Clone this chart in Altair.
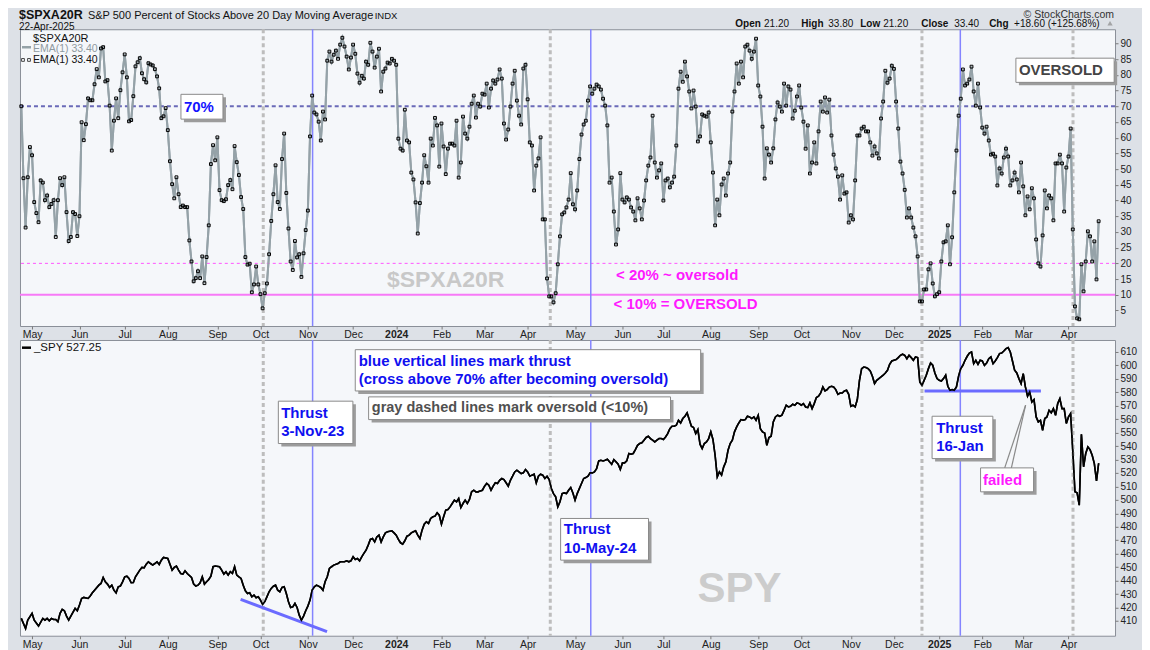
import altair as alt
import pandas as pd

# ---------------- data ----------------
HOLIDAYS = ["2023-05-29", "2023-06-19", "2023-07-04", "2023-09-04", "2023-11-23", "2023-12-25",
            "2024-01-01", "2024-01-15", "2024-02-19", "2024-03-29", "2024-05-27", "2024-06-19",
            "2024-07-04", "2024-09-02", "2024-11-28", "2024-12-25",
            "2025-01-01", "2025-01-09", "2025-01-20", "2025-02-17", "2025-04-18"]
dates = pd.bdate_range("2023-04-24", "2025-04-22", freq="C", holidays=HOLIDAYS)

spxa20r = [
    70, 47.1, 31.4, 47.4, 57, 54.4, 39.5, 36, 33.1, 46.4,
    45.7, 40.1, 41.6, 37.9, 38.9, 40.1, 28.4, 40.1, 47.1, 44.9,
    47.4, 36.3, 27.1, 28.4, 36.3, 35.7, 28.7, 35, 64.9, 59.2,
    64.3, 72.5, 71.9, 71.9, 77, 81.8, 79.2, 88.4, 88.8, 77.9,
    78.3, 70.2, 55.9, 65.4, 72.5, 66.2, 75.1, 80.8, 86.5, 79.2,
    65.2, 65.6, 73.2, 82.7, 84, 85.3, 80.5, 78.6, 77.6, 83.7,
    83.3, 83, 81.8, 79.5, 75.7, 66.2, 66.8, 69.4, 62.4, 52.5,
    45.2, 40.7, 47.4, 42, 37.9, 38.4, 37.9, 37.9, 27.3, 20.6,
    14.3, 15.3, 17.5, 15.3, 22.2, 13.7, 22, 32.1, 51.6, 57.6,
    52.8, 60.1, 43.3, 40.1, 39.8, 40.4, 44.9, 46.5, 43.6, 57.3,
    52.2, 48.1, 41.1, 37.3, 22, 19.6, 19.9, 10.8, 13.3, 19,
    13.3, 10.2, 5.7, 10.5, 13.6, 22.9, 33.5, 42, 51.2, 39.5,
    37.3, 53.2, 61.3, 42.4, 31.1, 20.6, 17.9, 27.1, 21.9, 22.9,
    15.7, 23.2, 30.6, 36.8, 60.4, 73.4, 68, 67.4, 65.1, 59.1,
    68.3, 65.8, 84.5, 87.4, 84.2, 86.4, 87.7, 85.1, 89.6, 91.8,
    89, 85.8, 81.7, 85.5, 89.6, 86.7, 80.4, 77.5, 79.7, 78.8,
    84.2, 83.2, 90.2, 87.4, 82.3, 85.8, 88.3, 74.7, 81, 82,
    83.9, 83.6, 85.1, 84.5, 83.2, 59.7, 56.5, 55.9, 68.9, 59.1,
    58.5, 48.9, 46.7, 39.4, 29.5, 39.2, 45.7, 54.4, 50.9, 45.7,
    59.7, 57.5, 66.3, 63.9, 50.8, 64.5, 57.2, 48.4, 56.5, 58.1,
    58.1, 57.5, 65.4, 47.3, 52.1, 66.7, 61.3, 59.7, 63.5, 70.8,
    73.4, 66.4, 70.8, 69.9, 74, 73.7, 77.2, 69.6, 75.6, 78.2,
    77.2, 78.5, 81.7, 78.8, 64.5, 59.4, 62.6, 69.9, 77.2, 81.3,
    71.8, 67, 64.2, 82, 83.2, 72.2, 58.5, 57.5, 43.2, 51.1,
    53.4, 60.1, 34, 34, 15.2, 9.5, 9.5, 7.6, 10.5, 19.7,
    28.6, 35.6, 36.2, 37.8, 40.3, 48.7, 38.8, 37.2, 43.2, 53.2,
    61, 64.2, 65.4, 71.8, 76.3, 74, 75.6, 76.9, 76.3, 75.3,
    72.4, 70.2, 63.9, 45.7, 47.3, 36.5, 26, 30.8, 48.7, 40.3,
    39.4, 41, 40.3, 37.8, 36.5, 33.7, 40.7, 37.5, 34, 40,
    46.4, 51.1, 53.7, 67, 52.1, 47.3, 49.6, 51.8, 40, 46.4,
    47, 44.2, 45.7, 47.6, 57.5, 75.6, 81, 77.8, 84.2, 79.5,
    74.7, 69.3, 75, 69.9, 58.8, 60.4, 67.4, 67, 66.7, 68,
    58.5, 48.9, 32.1, 40.3, 35.3, 45.1, 47, 41.6, 48.6, 52.1,
    68.3, 74.7, 83.6, 77.2, 84.2, 79.2, 89, 89.6, 87.7, 85.1,
    87.4, 91.5, 76.6, 73.1, 63.5, 47, 56.6, 54.6, 52.1, 56.6,
    65.8, 71.2, 69.9, 68.3, 77.2, 70.2, 76.3, 75.3, 66.1, 68.6,
    73.1, 76.6, 69.6, 65.1, 56.5, 63.9, 48.6, 52.1, 58.5, 51.8,
    62, 71.5, 68.3, 72.8, 68, 72.1, 60.7, 54.6, 50.2, 47.6,
    40.3, 48, 42.2, 42.6, 33, 35.3, 34, 46.4, 60.7, 60.7,
    62.9, 63.5, 62, 62, 58.5, 54.3, 57.2, 55, 53.4, 66.1,
    71.5, 81.3, 77.5, 78.8, 82.9, 81.9, 71.5, 62.9, 52.4, 48.6,
    43.4, 34.6, 37.5, 34.6, 31.4, 28.6, 22.2, 7.9, 7.9, 11.7,
    11.7, 18.1, 20, 13.6, 9.5, 10.2, 10.8, 20.6, 26.7, 27,
    32.1, 19.7, 28.3, 42.6, 55.9, 67, 72.4, 81.7, 76.6, 77.2,
    78.5, 82.6, 74.7, 70.2, 77.2, 69.6, 63.2, 61.3, 63.5, 59.1,
    54.6, 54.9, 54, 44.8, 50.2, 48.6, 53.7, 56.5, 54, 44.8,
    46.4, 48.9, 46.7, 42.6, 52.1, 44.5, 35.3, 41.3, 37.2, 43.9,
    40.7, 27.6, 20, 19, 28.9, 43.2, 37.5, 41.6, 40.7, 33.7,
    51.8, 51.8, 54.6, 51.8, 36.5, 50.5, 54, 62.9, 30.8, 6.3,
    2.5, 2.2, 19.7, 11.1, 20.6, 30.2, 28.6, 20.6, 27, 14.9,
    33.4]

# SPY closes read at trading-day positions (index into trading days)
spy_day = [
    0, 2, 3, 5, 6, 8, 10, 11, 12, 13, 14, 15, 16, 17, 18, 19, 20, 21, 22, 23, 25, 26, 27, 28, 29,
    31, 32, 33, 34, 36, 37, 38, 39, 40, 41, 42, 43, 44, 45, 46, 47, 48, 49, 50, 51, 52, 53, 55, 56,
    57, 58, 59, 60, 61, 62, 63, 64, 65, 66, 68, 69, 70, 71, 72, 73, 74, 75, 76, 77, 79, 80, 81, 82,
    83, 84, 85, 86, 87, 88, 89, 90, 92, 93, 94, 95, 96, 97, 98, 99, 100, 101, 102, 103, 104, 105,
    106, 107, 108, 109, 110, 111, 112, 113, 114, 115, 116, 117, 118, 119, 120, 121, 122, 123, 124,
    125, 126, 127, 128, 129, 130, 131, 132, 133, 134, 135, 136, 137, 138, 139, 140, 141, 142, 143,
    144, 145, 147, 148, 149, 150, 151, 152, 153, 154, 155, 156, 157, 158, 159, 160, 161, 162, 163,
    164, 165, 166, 167, 168, 169, 170, 172, 173, 174, 175, 176, 177, 178, 179, 180, 181, 182, 183,
    184, 185, 186, 187, 188, 189, 190, 191, 192, 193, 194, 195, 196, 197, 198, 199, 200, 201, 202,
    203, 204, 205, 206, 207, 208, 209, 210, 211, 212, 213, 214, 215, 216, 217, 218, 219, 220, 221,
    222, 223, 224, 225, 226, 227, 228, 229, 230, 231, 232, 233, 234, 235, 236, 237, 238, 239, 240,
    241, 242, 243, 244, 245, 246, 247, 248, 249, 250, 251, 252, 253, 254, 255, 256, 257, 258, 260,
    261, 262, 263, 264, 265, 266, 267, 268, 269, 270, 271, 272, 273, 274, 275, 276, 277, 278, 279,
    280, 281, 282, 283, 284, 285, 286, 287, 288, 289, 290, 291, 292, 293, 294, 295, 296, 297, 298,
    299, 300, 301, 302, 303, 304, 305, 306, 307, 308, 309, 310, 311, 312, 313, 314, 315, 316, 317,
    318, 319, 320, 321, 322, 323, 324, 325, 326, 327, 328, 329, 330, 331, 332, 333, 334, 335, 336,
    337, 338, 339, 340, 341, 342, 343, 344, 345, 346, 347, 348, 349, 350, 351, 352, 353, 354, 355,
    356, 357, 358, 359, 360, 361, 362, 363, 364, 365, 366, 367, 368, 369, 370, 371, 372, 373, 374,
    375, 376, 377, 378, 379, 380, 381, 382, 383, 384, 385, 386, 387, 388, 389, 390, 391, 392, 393,
    394, 395, 396, 397, 398, 399, 400, 401, 402, 403, 404, 405, 406, 407, 408, 409, 410, 411, 412,
    413, 414, 415, 416, 417, 418, 419, 420, 421, 422, 423, 424, 425, 426, 427, 428, 429, 430, 431,
    432, 433, 434, 435, 436, 437, 438, 439, 440, 441, 442, 443, 444, 445, 446, 447, 448, 449, 450,
    451, 452, 453, 454, 455, 456, 457, 458, 459, 460, 461, 462, 463, 464, 465, 466, 467, 468, 469,
    470, 471, 472, 473, 474, 475, 476, 477, 478, 479, 480, 481, 482, 483, 484, 485, 486, 487, 488,
    489, 490, 491, 492, 493, 494, 495, 496, 497, 498, 499, 500]
spy_close = [
    411.9, 404.4, 410.6, 415.6, 410.6, 406.2, 411.9, 410.6, 411.9, 410.1, 411.9, 411.1, 411.1, 409.4,
    415.6, 418.6, 417.6, 413.6, 410.6, 413.6, 419.3, 417.6, 421.8, 426.7, 427.5,
    426.7, 428.5, 430.9, 432.9, 436.6, 437.9, 442.3, 439.1, 437.4, 434.9, 436.6, 432.9, 430.9, 435.4,
    435.9, 439.1, 442.8, 443.3, 441.6, 438.4, 438.6, 442.8, 447.8, 449.8,
    449.5, 452.2, 454.0, 452.7, 451.5, 452.7, 454.0, 452.0, 455.2, 457.2, 456.5, 452.2, 447.8, 449.8,
    450.8, 447.8, 445.3, 444.8, 447.3, 445.3, 442.3, 437.4, 435.9, 436.6,
    438.4, 442.8, 437.4, 439.1, 440.8, 443.3, 450.3, 450.8, 450.3, 447.8, 444.8, 446.6, 444.1, 446.6,
    445.3, 450.3, 444.1, 442.8, 441.6, 436.6, 432.4, 430.4,
    430.9, 427.9, 429.2, 427.2, 427.9, 425.5, 422.3, 424.3, 427.9, 431.7, 434.2, 435.9, 436.6, 432.9,
    431.7, 434.9, 435.4, 430.4, 424.3,
    420.0, 420.5, 423.0, 420.0, 414.3, 410.6, 413.6, 417.6, 421.0, 425.5, 432.9, 435.4, 436.6, 435.9,
    434.9, 432.9, 439.1, 442.8, 449.0,
    450.3, 451.5, 452.7, 454.0, 454.0, 454.0, 454.7, 454.0, 454.7, 457.7, 455.7, 456.5, 454.7, 457.7,
    460.2, 462.6, 466.4, 470.6, 471.3,
    468.8, 472.5, 473.8, 468.8, 472.5, 475.5, 476.3, 477.0, 475.5, 473.8, 470.6, 468.1, 467.1, 469.6,
    473.0, 473.8, 475.5, 476.3, 477.0,
    473.8, 471.3, 477.5, 481.9, 483.7, 482.5, 486.2, 487.4, 487.9, 490.4, 488.6, 481.9, 487.4, 492.4,
    492.9, 494.8, 497.3, 499.8, 498.6,
    501.0, 494.3, 497.3, 499.8, 497.3, 500.3, 506.0, 507.2, 506.0, 506.0, 506.7, 507.2, 510.2, 512.2,
    510.9, 507.2, 510.2, 512.7, 512.2,
    514.6, 515.9, 515.1, 512.7, 510.2, 514.6, 517.6, 520.8, 522.1, 520.8, 519.6, 520.1, 522.6, 520.8,
    517.6, 518.4, 519.1, 512.7, 517.6,
    519.1, 518.4, 515.9, 517.6, 515.1, 508.5, 504.7, 502.3, 494.8, 498.6, 504.7, 505.2, 504.7, 507.2,
    509.2, 505.2, 499.8, 504.7, 512.2,
    515.9, 516.6, 517.6, 520.1, 520.1, 520.8, 523.3, 529.0, 529.5, 529.0, 529.5, 530.2, 528.3, 526.5,
    530.0, 528.3, 526.5, 522.6, 527.5,
    527.5, 529.0, 534.5, 534.0, 534.5, 537.4, 540.6, 541.9, 542.4, 544.4, 546.4, 547.3, 545.6, 544.4,
    543.1, 544.4, 545.6, 545.6, 544.9,
    546.8, 549.3, 553.0, 554.8, 554.8, 555.5, 559.2, 557.2, 560.5, 562.2, 564.7, 559.7, 554.8, 553.8,
    549.3, 552.3, 541.4, 538.2, 541.9,
    543.1, 545.6, 550.6, 544.9, 533.2, 517.1, 520.8, 518.4, 524.6, 528.3, 536.9, 541.9, 544.4, 550.6,
    554.3, 557.2, 559.7, 559.2, 559.7,
    562.2, 561.7, 560.5, 561.7, 559.2, 562.9, 553.0, 550.6, 549.8, 540.6, 546.4, 547.3, 558.0, 561.7,
    563.0, 562.2, 563.0, 566.6, 570.4,
    569.1, 569.6, 571.1, 570.4, 572.1, 571.6, 570.4, 571.6, 569.1, 568.6, 572.1, 567.9, 571.6, 576.1,
    577.1, 579.5, 584.0, 581.0, 582.0,
    583.9, 584.5, 584.0, 582.0, 578.5, 579.5, 579.5, 581.0, 581.5, 578.5, 569.6, 570.4, 569.1, 574.6,
    588.9, 597.6, 598.8, 598.4, 597.6,
    595.9, 591.9, 586.5, 588.9, 590.2, 591.4, 592.7, 594.4, 596.4, 600.8, 603.3, 603.8, 604.3, 605.8,
    607.5, 608.3, 607.5, 605.0, 607.5,
    605.8, 603.8, 606.3, 605.8, 587.7, 585.2, 588.9, 592.7, 597.6, 601.8, 600.1, 594.4, 590.2, 588.9,
    588.4, 590.2, 592.7, 584.5, 581.5,
    582.0, 581.5, 584.0, 591.9, 597.6, 600.1, 603.8, 606.8, 609.2, 610.0, 601.3, 603.8, 600.8, 603.8,
    603.3, 600.1, 601.8, 605.0, 606.3,
    601.3, 603.3, 605.8, 608.8, 609.2, 610.7, 612.5, 613.2, 610.0, 603.3, 596.4, 594.4, 590.2, 586.5,
    593.9, 584.0, 577.1, 580.3, 572.8,
    574.6, 561.7, 558.0, 559.2, 551.8, 560.5, 561.7, 566.6, 564.7, 567.9, 562.9, 571.6, 575.3, 567.9,
    567.9, 556.8, 561.7, 564.2, 536.0,
    506.0, 505.2, 496.1, 548.8, 524.6, 534.5, 539.4, 537.4, 533.2, 527.0, 514.1, 527.25]

oversold_day = [112.3, 245.5, 418.0, 488.1]     # gray dashed lines
thrust_day = [135.2, 264.3, 435.8]              # blue vertical lines

# ---------------- derived tables ----------------
breadth = pd.DataFrame({"i": list(range(len(spxa20r))), "v": spxa20r})
n2 = min(len(spy_day), len(spy_close))
spy = pd.DataFrame({"i": spy_day[:n2], "v": spy_close[:n2]})

month_idx, month_lab, bold_idx = [], [], []
prev = None
for k, d in enumerate(dates):
    key = (d.year, d.month)
    if key != prev and k > 0:
        month_idx.append(k)
        if d.month == 1:
            month_lab.append(str(d.year))
            bold_idx.append(k)
        else:
            month_lab.append(d.strftime("%b"))
    prev = key

label_expr = "[" + ",".join("'%s'" % s for s in month_lab) + "][indexof([" + \
    ",".join(str(v) for v in month_idx) + "], datum.value)]"
bold_test = " || ".join("datum.value == %d" % v for v in bold_idx) or "false"

XDOM = [-0.6, 507.6]
FONT = "Liberation Sans"
ONE = pd.DataFrame({"k": [0]})


def x_axis():
    return alt.Axis(values=month_idx, labelExpr=label_expr, labelFlush=False, labelOverlap=False,
                    tickCount=60, grid=False, domain=False, tickSize=3, tickColor="#7a7a7a",
                    labelFontSize=10.5, labelColor="#222222", labelPadding=1, title=None,
                    labelFontWeight={"condition": {"test": bold_test, "value": "bold"}, "value": "normal"})


def y_axis(vals):
    return alt.Axis(orient="right", values=vals, tickCount=60, grid=False, domain=False, tickSize=3,
                    tickColor="#7a7a7a", labelFontSize=10, labelColor="#222222", labelPadding=2,
                    labelOverlap=False, labelFlush=False, title=None)


def ptext(s, x, y, size=11, color="#000000", weight="normal", align="left", baseline="alphabetic"):
    return alt.Chart(ONE).mark_text(text=s, align=align, baseline=baseline, fontSize=size,
                                    color=color, fontWeight=weight, font=FONT).encode(
        x=alt.value(x), y=alt.value(y))


def boxes(df):
    shadow = alt.Chart(df).mark_rect(fill="#9c9c9c", xOffset=3, x2Offset=3, yOffset=3, y2Offset=3).encode(
        x="x1:Q", x2="x2:Q", y="y1:Q", y2="y2:Q")
    box = alt.Chart(df).mark_rect(fill="white", stroke="#8a8a8a", strokeWidth=1).encode(
        x="x1:Q", x2="x2:Q", y="y1:Q", y2="y2:Q")
    return [shadow, box]


def dtext(df, size, color, weight="bold", align="left"):
    return alt.Chart(df).mark_text(align=align, baseline="middle", fontSize=size, color=color,
                                   fontWeight=weight, font=FONT).encode(x="x:Q", y="y:Q", text="t:N")


vgray = pd.DataFrame({"x": oversold_day})
vblue = pd.DataFrame({"x": thrust_day})


def verticals():
    g = alt.Chart(vgray).mark_rule(color="#bdbdbd", strokeWidth=3, strokeDash=[4, 3]).encode(x="x:Q")
    b = alt.Chart(vblue).mark_rule(color="#8484ff", strokeWidth=1.5).encode(x="x:Q")
    return [g, b]


# ---------------- top panel ----------------
xs = alt.Scale(domain=XDOM, nice=False, zero=False)
top_line = alt.Chart(breadth).mark_line(color="#95a2a8", strokeWidth=2).encode(
    x=alt.X("i:Q", scale=xs, axis=x_axis()),
    y=alt.Y("v:Q", scale=alt.Scale(domain=[0.07, 94.5], nice=False, zero=False),
            axis=y_axis(list(range(5, 95, 5)))))
top_pts = alt.Chart(breadth).mark_point(shape="square", size=8, filled=False, color="#000000",
                                        strokeWidth=1, opacity=1).encode(x="i:Q", y="v:Q")

h70 = alt.Chart(pd.DataFrame({"v": [70]})).mark_rule(color="#6a6ab8", strokeWidth=2,
                                                    strokeDash=[4, 3]).encode(y="v:Q")
h20 = alt.Chart(pd.DataFrame({"v": [20]})).mark_rule(color="#ff55ff", strokeWidth=1,
                                                    strokeDash=[3, 3]).encode(y="v:Q")
h10 = alt.Chart(pd.DataFrame({"v": [10]})).mark_rule(color="#f77af7", strokeWidth=2).encode(y="v:Q")

top_boxes = pd.DataFrame({"x1": [74.1, 461.6], "x2": [93.6, 507.2],
                          "y1": [73.8, 85.3], "y2": [65.9, 77.6]})
wm_top = dtext(pd.DataFrame({"x": [169.7], "y": [14.6], "t": ["$SPXA20R"]}), 23, "#c8c8c8")
t70 = dtext(pd.DataFrame({"x": [75.5], "y": [69.8], "t": ["70%"]}), 15, "#1414ff")
tover = dtext(pd.DataFrame({"x": [463.0], "y": [81.4], "t": ["OVERSOLD"]}), 15, "#444444")
tmag = dtext(pd.DataFrame({"x": [276.0, 274.9], "y": [16.2, 7.2],
                           "t": ["< 20% ~ oversold", "< 10% = OVERSOLD"]}), 15, "#ff19ff")

# legend and header (pixel positions relative to the top plot)
legend_top = [
    ptext("$SPXA20R", 13, 9.5, 11, "#111111", baseline="middle"),
    alt.Chart(ONE).mark_rule(color="#95a2a8", strokeWidth=2.5).encode(
        x=alt.value(2), x2=alt.value(11), y=alt.value(18), y2=alt.value(18)),
    ptext("EMA(1) 33.40", 13, 19.7, 10.5, "#8f9aa0", baseline="middle"),
    alt.Chart(pd.DataFrame({"px": [3, 9]})).mark_point(shape="square", size=8, filled=False,
                                                        color="#000000", strokeWidth=1).encode(
        x=alt.X("px:Q", scale=None), y=alt.value(30.7)),
    ptext("EMA(1) 33.40", 13, 30.5, 10.5, "#111111", baseline="middle"),
]
header = [
    ptext("$SPXA20R", -1, -10, 12.5, "#111111", weight="bold"),
    ptext("S&P 500 Percent of Stocks Above 20 Day Moving Average", 68, -10, 11, "#111111"),
    ptext("INDX", 355, -10, 9.5, "#111111"),
    ptext("22-Apr-2025", -1, 0.5, 10, "#111111"),
    ptext("\u00a9 StockCharts.com", 1095, -11, 10.5, "#333333", align="right"),
    ptext("Open", 716, -2, 10, "#111111", weight="bold"),
    ptext("21.20", 744.7, -2, 10, "#111111"),
    ptext("High", 782, -2, 10, "#111111", weight="bold"),
    ptext("33.80", 809, -2, 10, "#111111"),
    ptext("Low", 841, -2, 10, "#111111", weight="bold"),
    ptext("21.20", 864, -2, 10, "#111111"),
    ptext("Close", 902, -2, 10, "#111111", weight="bold"),
    ptext("33.40", 935, -2, 10, "#111111"),
    ptext("Chg", 970, -2, 10, "#111111", weight="bold"),
    ptext("+18.60 (+125.68%)", 995, -2, 10, "#111111"),
    alt.Chart(ONE).mark_point(shape="triangle-up", size=28, filled=True, color="#8a8a8a").encode(
        x=alt.value(1091), y=alt.value(-6)),
]

top = alt.layer(
    top_line, wm_top, h20, h10, h70, *verticals(), top_line, top_pts,
    *boxes(top_boxes), t70, tover, tmag, *legend_top, *header
).properties(width=1096, height=297)

# ---------------- bottom panel ----------------
bot_line = alt.Chart(spy).mark_line(color="#000000", strokeWidth=1.6).encode(
    x=alt.X("i:Q", scale=alt.Scale(domain=XDOM, nice=False, zero=False), axis=x_axis()),
    y=alt.Y("v:Q", scale=alt.Scale(domain=[399.0, 618.9], nice=False, zero=False),
            axis=y_axis(list(range(410, 620, 10)))))

trend = pd.DataFrame({"x": [101.8, 419.2], "y": [426.0, 581.0], "x2": [141.9, 473.2], "y2": [402.0, 581.0]})
trend_rule = alt.Chart(trend).mark_rule(color="#6b6bff", strokeWidth=3).encode(
    x="x:Q", y="y:Q", x2="x2:Q", y2="y2:Q")

bot_boxes = pd.DataFrame({
    "x1": [155.0, 161.2, 119.3, 250.3, 422.7, 445.2],
    "x2": [315.3, 301.3, 153.9, 291.1, 450.9, 469.8],
    "y1": [611.7, 576.6, 573.4, 486.2, 562.2, 523.8],
    "y2": [581.0, 559.7, 541.9, 455.2, 530.7, 506.0]})
blue_txt = pd.DataFrame({
    "x": [156.6, 156.6, 120.6, 120.6, 251.8, 251.8, 424.6, 424.6],
    "y": [603.3, 590.2, 564.7, 551.1, 478.0, 464.4, 553.8, 540.4],
    "t": ["blue vertical lines mark thrust", "(cross above 70% after  becoming oversold)",
          "Thrust", "3-Nov-23", "Thrust", "10-May-24", "Thrust", "16-Jan"]})
gray_txt = pd.DataFrame({"x": [162.7], "y": [568.2], "t": ["gray dashed lines mark oversold (<10%)"]})
fail_txt = pd.DataFrame({"x": [446.3], "y": [515.1], "t": ["failed"]})
pointer = pd.DataFrame({"x": [456.4, 459.5], "y": [523.8, 523.8], "x2": [466.1, 466.1], "y2": [570.4, 570.4]})
pointer_rule = alt.Chart(pointer).mark_rule(color="#8a8a8a", strokeWidth=1.2).encode(
    x="x:Q", y="y:Q", x2="x2:Q", y2="y2:Q")
wm_bot = dtext(pd.DataFrame({"x": [333.3], "y": [433.5], "t": ["SPY"]}), 42, "#cccccc", align="center")

legend_bot = [
    alt.Chart(ONE).mark_rule(color="#000000", strokeWidth=2.5).encode(
        x=alt.value(2), x2=alt.value(11), y=alt.value(7.7), y2=alt.value(7.7)),
    ptext("_SPY 527.25", 14, 8, 11.5, "#111111", baseline="middle"),
]

bottom = alt.layer(
    bot_line, wm_bot, *verticals(), trend_rule, bot_line, pointer_rule, *boxes(bot_boxes),
    dtext(blue_txt, 15, "#1010f0"), dtext(gray_txt, 14.5, "#505050"), dtext(fail_txt, 15, "#ff19ff"),
    *legend_bot
).properties(width=1096, height=296)

chart = alt.vconcat(top, bottom, spacing=14, bounds="flush").resolve_scale(
    y="independent"
).configure(
    background="#dde1e7", padding={"left": 8, "top": 0, "right": 4, "bottom": 0}, font=FONT
).configure_view(fill="#f5f7fa", stroke="#8a8f98", strokeWidth=1)

chart.save("out.html", embed_options={"renderer": "svg", "actions": False})
